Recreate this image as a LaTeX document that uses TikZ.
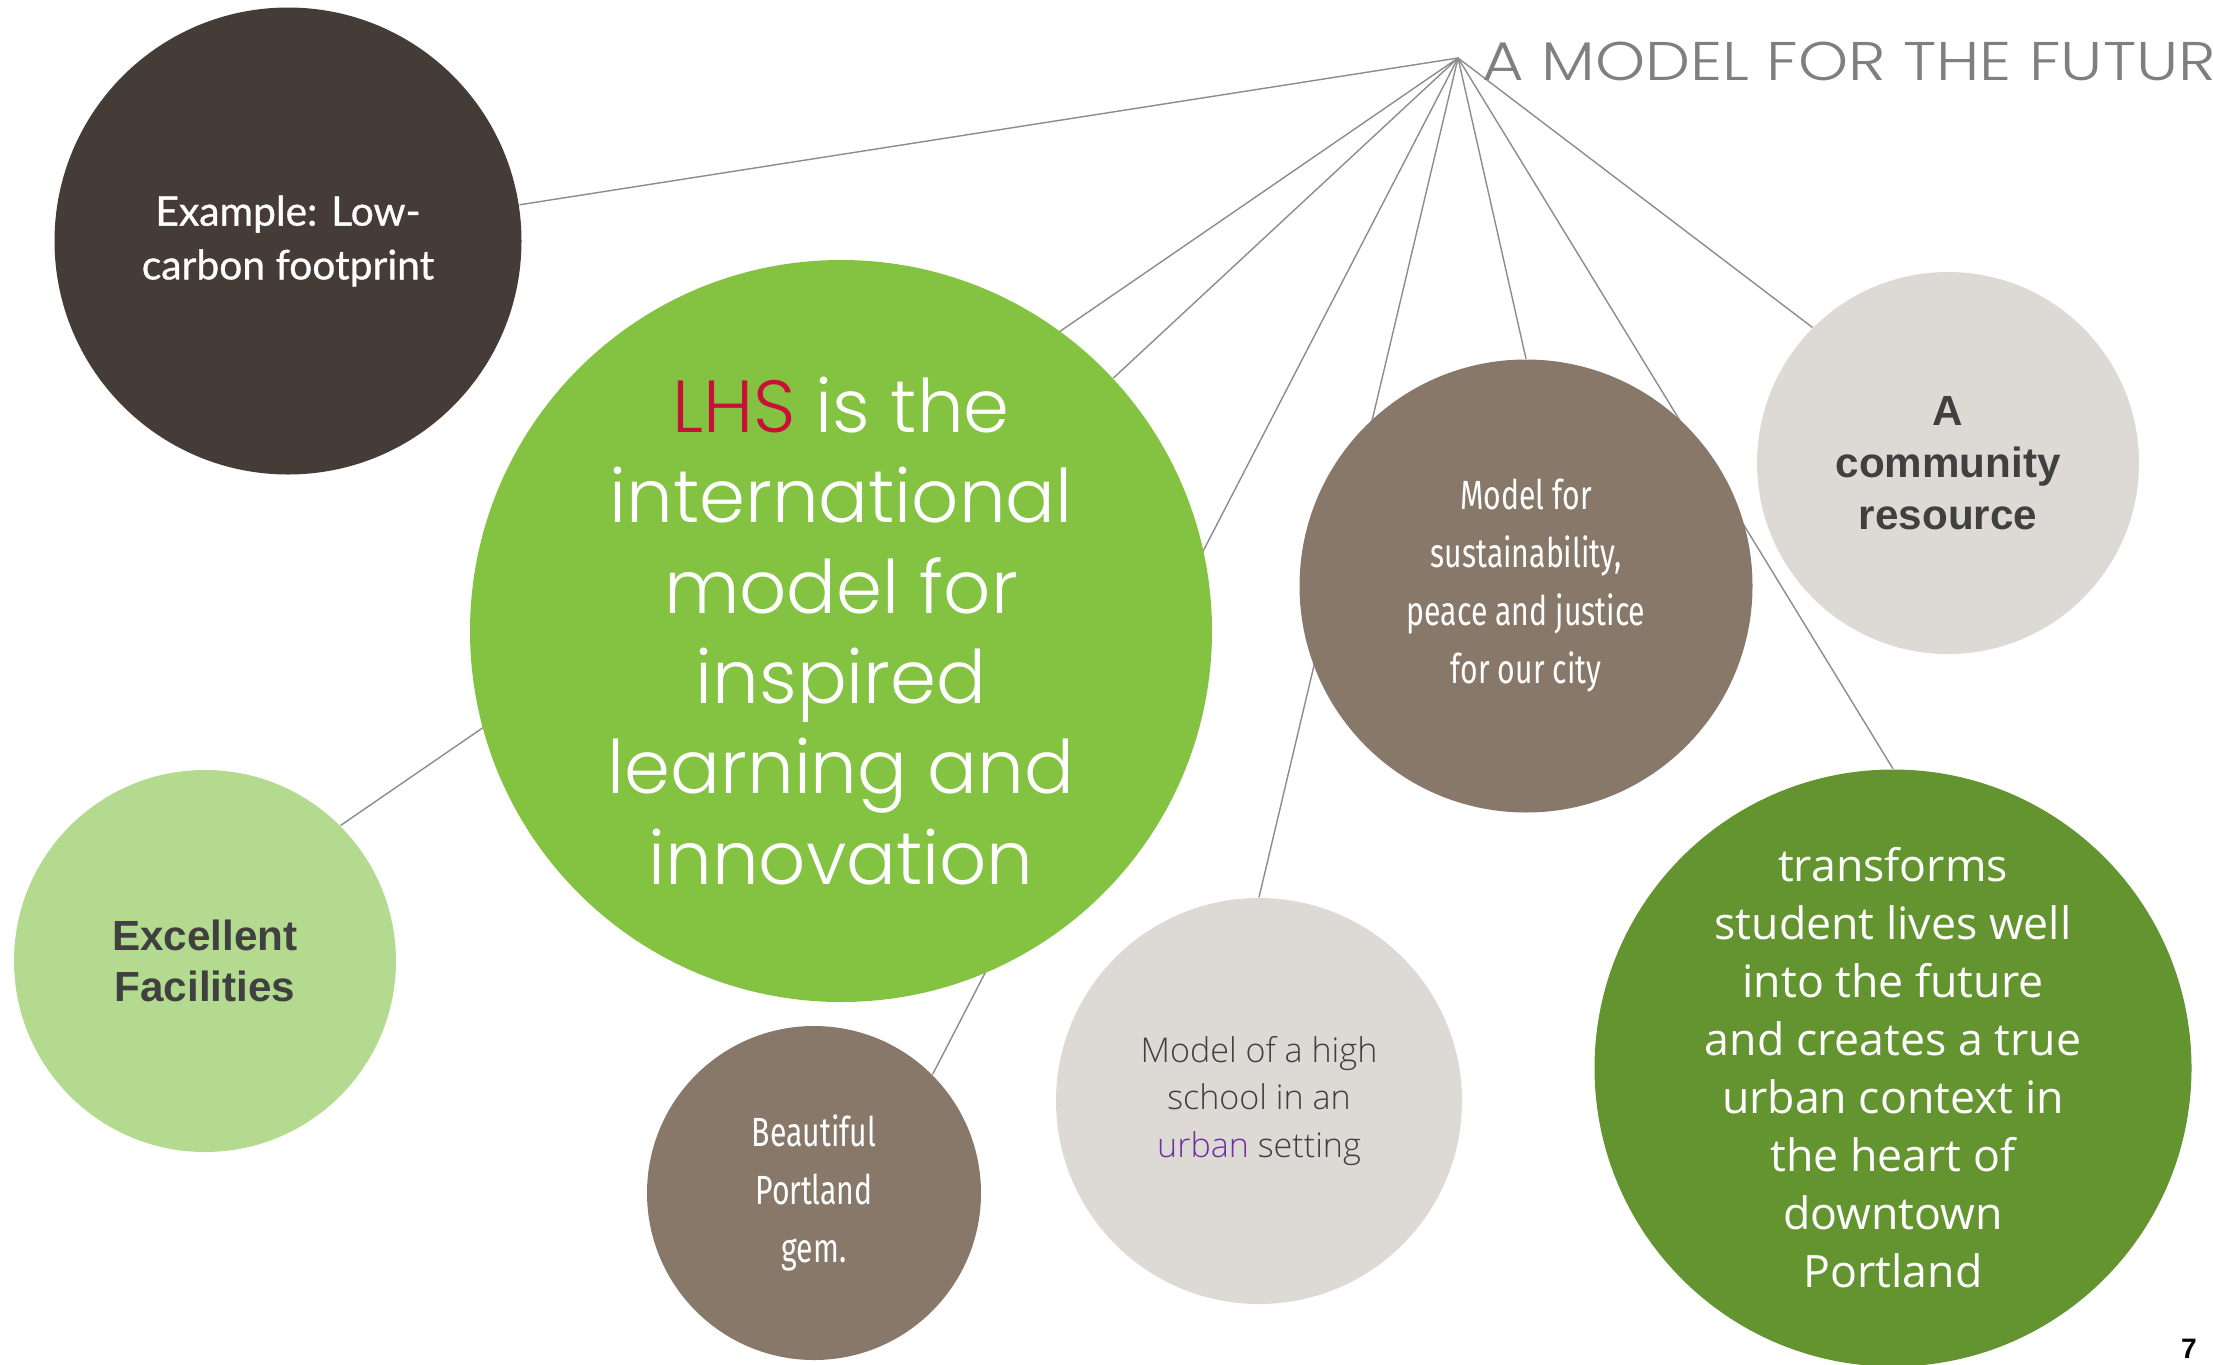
\documentclass[tikz,border=0pt]{standalone}
\usepackage{fontspec}
\usetikzlibrary{backgrounds}
\setmainfont{Open Sans}
\newfontfamily\titlefont{Poppins Light}[FakeStretch=1.17]
\newfontfamily\gothicfont{Poppins Light}
\newfontfamily\roundfont{Lato}[FakeBold=0.8]
\newfontfamily\arialfont{Liberation Sans}
\newfontfamily\narrowfont{Fira Sans}[FakeStretch=0.74]
\newfontfamily\thinfont{Open Sans Light}
\newfontfamily\opensansfont{Open Sans}

\definecolor{darkbrown}{HTML}{463C37}
\definecolor{leafgreen}{HTML}{83C341}
\definecolor{palegreen}{HTML}{B3DA8F}
\definecolor{taupe}{HTML}{87786A}
\definecolor{stone}{HTML}{DDD9D5}
\definecolor{forest}{HTML}{64942F}
\definecolor{lhsred}{HTML}{C8103A}
\definecolor{urbanpurple}{HTML}{7030A0}
\definecolor{inkgray}{HTML}{404040}
\definecolor{titlegray}{HTML}{7F7F7F}
\definecolor{linkgray}{HTML}{8C8C8C}

\begin{document}
\begin{tikzpicture}[x=0.1mm, y=-0.1mm,
  bubble/.style={circle, inner sep=0pt, align=center},
  link/.style={draw=linkgray, line width=0.4pt}]
\useasboundingbox (0,0) rectangle (2213,1364);
\clip (0,0) rectangle (2213,1364);

% bubbles
\node[bubble, fill=darkbrown, minimum size=46.7mm, text=white,
      font=\roundfont\fontsize{11.6}{15.3}\selectfont] (carbon) at (288,241)
      {Example: Low-\\carbon footprint};
\node[bubble, fill=leafgreen, minimum size=74.2mm, text=white,
      font=\gothicfont\fontsize{21}{25.7}\selectfont] (lhs) at (841,631)
      {\textcolor{lhsred}{LHS} is the\\international\\model for\\inspired\\learning and\\innovation};
\node[bubble, fill=palegreen, minimum size=38.2mm, text=inkgray,
      font=\arialfont\bfseries\fontsize{12}{14.6}\selectfont] (facilities) at (205,961)
      {Excellent\\Facilities};
\node[bubble, fill=taupe, minimum size=33.4mm, text=white,
      font=\narrowfont\fontsize{11.6}{16.5}\selectfont] (gem) at (814,1193)
      {Beautiful\\Portland\\gem.};
\node[bubble, fill=stone, minimum size=40.6mm, text=inkgray,
      font=\thinfont\fontsize{9.7}{13.6}\selectfont] (school) at (1259,1101)
      {Model of a high\\school in an\\\textcolor{urbanpurple}{urban} setting};
\node[bubble, fill=taupe, minimum size=45.3mm, text=white,
      font=\narrowfont\fontsize{11.6}{16.5}\selectfont] (sustain) at (1526,586)
      {Model for\\sustainability,\\peace and justice\\for our city};
\node[bubble, fill=stone, minimum size=38.2mm, text=inkgray,
      font=\arialfont\bfseries\fontsize{12}{14.8}\selectfont] (community) at (1948,463)
      {A\\community\\resource};
\node[bubble, fill=forest, minimum size=59.7mm, text=white,
      font=\opensansfont\fontsize{12.7}{16.5}\selectfont] (future) at (1893,1068)
      {transforms\\student lives well\\into the future\\and creates a true\\urban context in\\the heart of\\downtown\\Portland};

% title and page number
\coordinate (hub) at (1458,58);
\node[anchor=base west, inner sep=0pt, text=titlegray,
      font=\titlefont\fontsize{15.5}{18}\selectfont] (title) at (1482,80)
      {A MODEL FOR THE FUTURE};
\node[anchor=base, inner sep=0pt, text=black,
      font=\arialfont\bfseries\fontsize{8}{9}\selectfont] (pagenum) at (2189,1358) {7};

% spokes from the title point, behind the bubbles
\begin{scope}[on background layer]
  \draw[link] (hub) -- (carbon);
  \draw[link] (hub) -- (lhs);
  \draw[link] (hub) -- (facilities.north east);
  \draw[link] (hub) -- (gem.north east);
  \draw[link] (hub) -- (school.north);
  \draw[link] (hub) -- (sustain.north);
  \draw[link] (hub) -- (future.north);
  \draw[link] (hub) -- (community.north west);
\end{scope}
\end{tikzpicture}
\end{document}
